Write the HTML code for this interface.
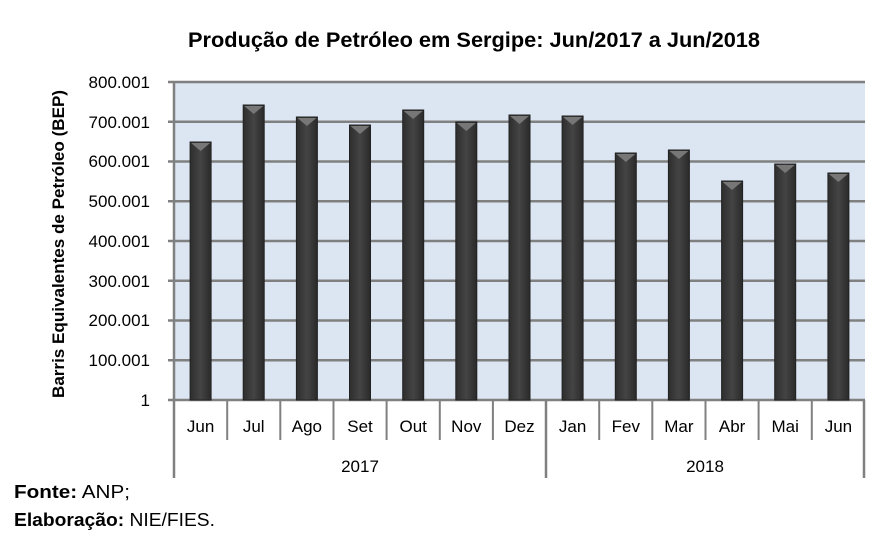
<!DOCTYPE html>
<html><head><meta charset="utf-8"><style>
body{margin:0;background:#fff;}
svg{display:block;font-family:"Liberation Sans",Calibri,sans-serif;}
</style></head><body>
<svg width="886" height="536" viewBox="0 0 886 536" xmlns="http://www.w3.org/2000/svg">
<defs>
<linearGradient id="bg" x1="0" x2="1" y1="0" y2="0">
<stop offset="0" stop-color="#2e2e2e"/><stop offset="0.5" stop-color="#444"/><stop offset="1" stop-color="#2a2a2a"/>
</linearGradient>
</defs>
<text x="474" y="47" text-anchor="middle" font-size="21.5" font-weight="bold" fill="#000" textLength="572" lengthAdjust="spacingAndGlyphs">Produção de Petróleo em Sergipe: Jun/2017 a Jun/2018</text>
<rect x="174" y="82" width="691" height="318" fill="#dce6f2"/>
<g stroke="#808080" stroke-width="2.5">
<line x1="168" y1="82" x2="865" y2="82"/>
<line x1="168" y1="121.75" x2="865" y2="121.75"/>
<line x1="168" y1="161.5" x2="865" y2="161.5"/>
<line x1="168" y1="201.25" x2="865" y2="201.25"/>
<line x1="168" y1="241" x2="865" y2="241"/>
<line x1="168" y1="280.75" x2="865" y2="280.75"/>
<line x1="168" y1="320.5" x2="865" y2="320.5"/>
<line x1="168" y1="360.25" x2="865" y2="360.25"/>
<line x1="168" y1="400" x2="865" y2="400"/>
<line x1="174" y1="82" x2="174" y2="478"/>
<line x1="546" y1="400" x2="546" y2="478"/>
<line x1="864" y1="400" x2="864" y2="478"/>
</g>
<g stroke="#808080" stroke-width="2">
<line x1="227.2" y1="400" x2="227.2" y2="440"/>
<line x1="280.3" y1="400" x2="280.3" y2="440"/>
<line x1="333.5" y1="400" x2="333.5" y2="440"/>
<line x1="386.6" y1="400" x2="386.6" y2="440"/>
<line x1="439.8" y1="400" x2="439.8" y2="440"/>
<line x1="492.9" y1="400" x2="492.9" y2="440"/>
<line x1="599.2" y1="400" x2="599.2" y2="440"/>
<line x1="652.3" y1="400" x2="652.3" y2="440"/>
<line x1="705.5" y1="400" x2="705.5" y2="440"/>
<line x1="758.6" y1="400" x2="758.6" y2="440"/>
<line x1="811.8" y1="400" x2="811.8" y2="440"/>
</g>
<g id="bars">
<g transform="translate(200.6,0)"><rect x="-10.5" y="142" width="21" height="258" fill="url(#bg)" stroke="#222"/><polygon points="-9.5,143 9.5,143 0,151" fill="#777"/></g>
<g transform="translate(253.7,0)"><rect x="-10.5" y="105" width="21" height="295" fill="url(#bg)" stroke="#222"/><polygon points="-9.5,106 9.5,106 0,114" fill="#777"/></g>
<g transform="translate(306.9,0)"><rect x="-10.5" y="117" width="21" height="283" fill="url(#bg)" stroke="#222"/><polygon points="-9.5,118 9.5,118 0,126" fill="#777"/></g>
<g transform="translate(360,0)"><rect x="-10.5" y="125" width="21" height="275" fill="url(#bg)" stroke="#222"/><polygon points="-9.5,126 9.5,126 0,134" fill="#777"/></g>
<g transform="translate(413.2,0)"><rect x="-10.5" y="110" width="21" height="290" fill="url(#bg)" stroke="#222"/><polygon points="-9.5,111 9.5,111 0,119" fill="#777"/></g>
<g transform="translate(466.3,0)"><rect x="-10.5" y="122" width="21" height="278" fill="url(#bg)" stroke="#222"/><polygon points="-9.5,123 9.5,123 0,131" fill="#777"/></g>
<g transform="translate(519.5,0)"><rect x="-10.5" y="115" width="21" height="285" fill="url(#bg)" stroke="#222"/><polygon points="-9.5,116 9.5,116 0,124" fill="#777"/></g>
<g transform="translate(572.6,0)"><rect x="-10.5" y="116" width="21" height="284" fill="url(#bg)" stroke="#222"/><polygon points="-9.5,117 9.5,117 0,125" fill="#777"/></g>
<g transform="translate(625.8,0)"><rect x="-10.5" y="153" width="21" height="247" fill="url(#bg)" stroke="#222"/><polygon points="-9.5,154 9.5,154 0,162" fill="#777"/></g>
<g transform="translate(678.9,0)"><rect x="-10.5" y="150" width="21" height="250" fill="url(#bg)" stroke="#222"/><polygon points="-9.5,151 9.5,151 0,159" fill="#777"/></g>
<g transform="translate(732.1,0)"><rect x="-10.5" y="181" width="21" height="219" fill="url(#bg)" stroke="#222"/><polygon points="-9.5,182 9.5,182 0,190" fill="#777"/></g>
<g transform="translate(785.2,0)"><rect x="-10.5" y="164" width="21" height="236" fill="url(#bg)" stroke="#222"/><polygon points="-9.5,165 9.5,165 0,173" fill="#777"/></g>
<g transform="translate(838.4,0)"><rect x="-10.5" y="173" width="21" height="227" fill="url(#bg)" stroke="#222"/><polygon points="-9.5,174 9.5,174 0,182" fill="#777"/></g>
</g>
<g font-size="17" fill="#000" text-anchor="end">
<text x="150" y="88">800.001</text>
<text x="150" y="128">700.001</text>
<text x="150" y="167">600.001</text>
<text x="150" y="207">500.001</text>
<text x="150" y="247">400.001</text>
<text x="150" y="287">300.001</text>
<text x="150" y="326">200.001</text>
<text x="150" y="366">100.001</text>
<text x="150" y="406">1</text>
</g>
<g font-size="17" fill="#000" text-anchor="middle">
<text x="200.6" y="432">Jun</text><text x="253.7" y="432">Jul</text><text x="306.9" y="432">Ago</text>
<text x="360" y="432">Set</text><text x="413.2" y="432">Out</text><text x="466.3" y="432">Nov</text>
<text x="519.5" y="432">Dez</text><text x="572.6" y="432">Jan</text><text x="625.8" y="432">Fev</text>
<text x="678.9" y="432">Mar</text><text x="732.1" y="432">Abr</text><text x="785.2" y="432">Mai</text>
<text x="838.4" y="432">Jun</text>
<text x="360" y="472">2017</text><text x="705" y="472">2018</text>
</g>
<text transform="translate(64,244) rotate(-90)" text-anchor="middle" font-size="17" font-weight="bold" fill="#000" textLength="308" lengthAdjust="spacingAndGlyphs">Barris Equivalentes de Petróleo (BEP)</text>
<text x="14" y="498" font-size="18" fill="#000" textLength="116" lengthAdjust="spacingAndGlyphs"><tspan font-weight="bold">Fonte:</tspan> ANP;</text>
<text x="14" y="526" font-size="18" fill="#000" textLength="201" lengthAdjust="spacingAndGlyphs"><tspan font-weight="bold">Elaboração:</tspan> NIE/FIES.</text>
</svg>
</body></html>
